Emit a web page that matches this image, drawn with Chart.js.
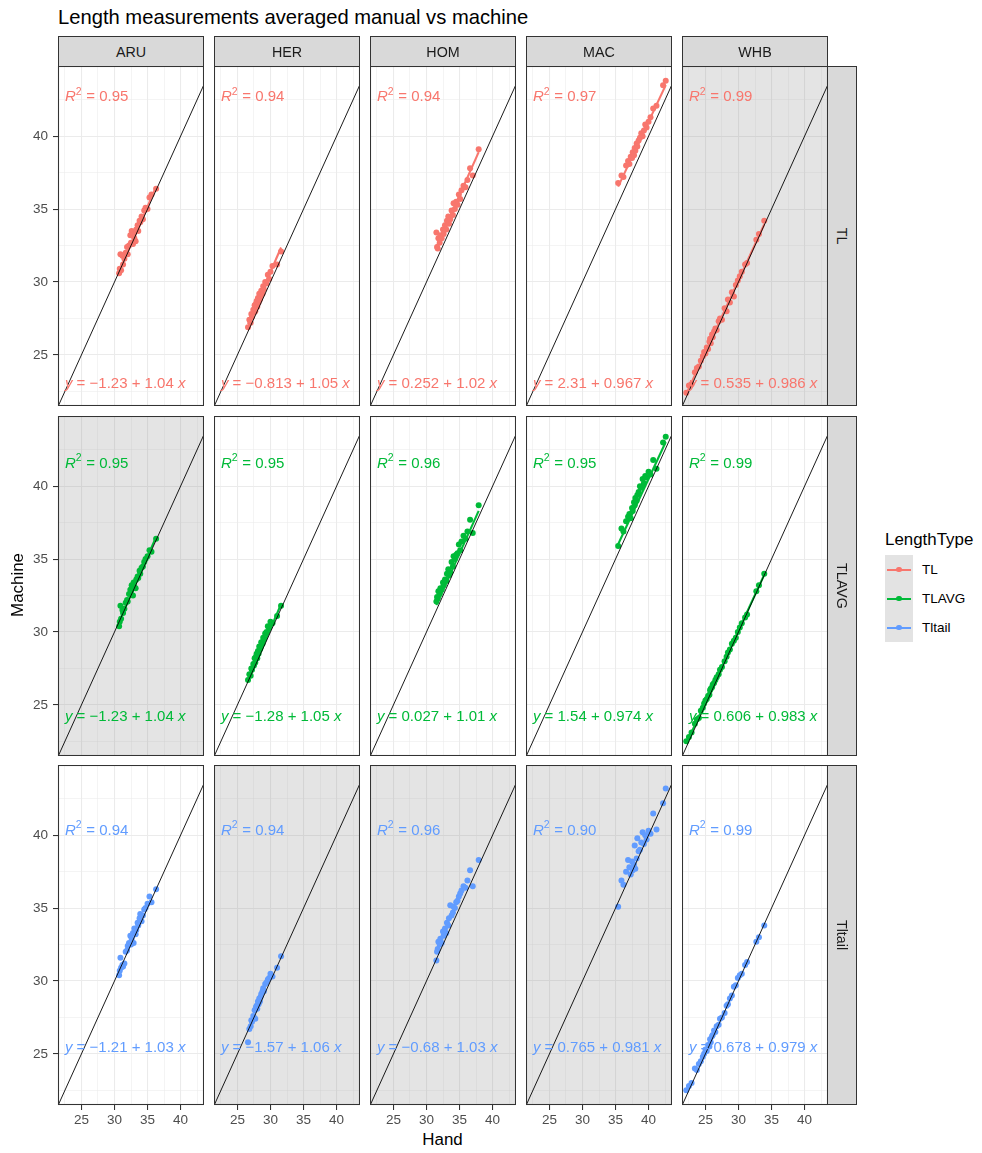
<!DOCTYPE html>
<html>
<head>
<meta charset="utf-8">
<script src="https://cdn.jsdelivr.net/npm/chart.js@4/dist/chart.umd.min.js"></script>
<style>
  body { margin: 0; background: #fff; font-family: "Liberation Sans", Arial, sans-serif; }
  #fig { position: relative; width: 982px; height: 1153px; overflow: hidden; background: #fff; }
  #fig canvas { position: absolute; }
  .txt { position: absolute; white-space: nowrap; }
  .strip { position: absolute; box-sizing: border-box; background: #D9D9D9; border: 1px solid #333333;
           color: #1A1A1A; font-size: 14.3px; display: flex; align-items: center; justify-content: center; }
</style>
</head>
<body>
<div id="fig"></div>
<script>
// ---- facets ----
const species = ['ARU', 'HER', 'HOM', 'MAC', 'WHB'];
const lengthTypes = ['TL', 'TLAVG', 'Tltail'];
const seriesColors = ['#F8766D', '#00BA38', '#619CFF'];
const shadedPanels = [['WHB'], ['ARU'], ['HER', 'HOM', 'MAC']];

// ---- manual (Hand) lengths per species ----
const handARU = [30.7,30.8,30.9,31.0,31.2,31.3,31.5,31.7,31.9,32.0,32.2,32.4,32.5,32.6,32.8,32.9,33.0,33.2,33.3,33.5,33.6,33.8,33.9,34.1,34.3,34.5,34.7,35.0,35.3,35.6,36.3];
const handHER = [26.6,26.8,27.0,27.1,27.2,27.4,27.5,27.6,27.7,27.8,27.9,28.0,28.1,28.2,28.3,28.4,28.5,28.6,28.8,28.9,29.0,29.2,29.4,29.6,29.8,30.0,30.3,31.0,31.6];
const handHOM = [31.5,31.6,31.7,31.8,32.0,32.1,32.3,32.5,32.6,32.8,33.0,33.1,33.3,33.4,33.6,33.8,34.0,34.1,34.3,34.5,34.7,34.9,35.1,35.3,35.6,35.9,36.2,36.6,37.0,37.9];
const handMAC = [35.4,35.9,36.2,36.6,36.9,37.1,37.3,37.5,37.6,37.8,37.9,38.0,38.2,38.3,38.5,38.7,38.9,39.1,39.3,39.5,39.7,40.0,40.3,40.7,41.2,42.2,42.6];
const handWHB = [22.1,22.5,22.9,23.4,23.7,24.0,24.3,24.6,24.8,25.0,25.2,25.4,25.6,25.7,25.8,26.0,26.1,26.3,26.5,26.7,27.0,27.2,27.5,27.9,28.2,28.4,28.7,29.0,29.3,29.6,29.9,30.2,30.5,31.0,31.3,32.7,33.1,33.9];

// ---- machine lengths: TL ----
const tlARU = [30.6,30.9,31.9,30.8,31.8,31.2,31.6,32.0,32.4,31.9,32.5,33.2,32.7,33.5,32.6,33.3,33.0,32.8,33.6,33.9,33.5,34.2,34.1,34.5,34.3,34.9,35.1,35.0,35.8,36.0,36.4];
const tlHER = [26.9,27.4,27.2,27.8,27.6,28.1,27.9,28.4,28.0,28.5,28.7,28.3,28.9,28.6,29.2,28.8,29.0,29.4,29.2,29.7,29.5,30.0,29.9,30.5,30.2,30.7,31.1,31.2,32.1];
const tlHOM = [33.4,32.4,32.3,33.0,32.7,33.2,33.0,33.6,33.3,33.9,33.6,34.2,34.5,34.0,34.3,34.9,34.6,35.4,35.0,35.5,35.3,36.0,35.7,36.3,36.6,36.5,37.0,37.8,37.3,39.1];
const tlMAC = [36.8,37.3,37.2,38.0,38.3,38.1,38.6,38.5,38.9,38.7,39.2,39.0,39.5,39.3,39.7,39.9,40.2,40.0,40.4,40.8,40.6,41.0,41.3,41.9,42.1,43.5,43.8];
const tlWHB = [22.4,22.9,23.0,23.8,24.1,24.2,24.6,24.9,25.2,25.1,25.5,25.4,25.9,26.1,25.8,26.4,26.2,26.6,26.8,26.7,27.3,27.5,27.4,28.2,28.0,28.8,28.6,29.3,29.0,29.8,30.1,30.4,30.7,31.2,31.3,32.9,33.3,34.2];

// ---- machine lengths: TLAVG ----
const tlavgARU = [30.4,30.7,31.8,30.9,31.5,31.3,31.6,32.0,32.2,32.1,32.6,32.9,32.8,33.2,32.5,33.4,33.1,33.0,33.6,33.8,33.7,34.2,34.0,34.4,34.5,34.8,35.0,35.2,35.6,35.5,36.4];
const tlavgHER = [26.7,27.1,27.0,27.5,27.4,27.8,27.7,28.2,27.9,28.3,28.5,28.2,28.7,28.5,29.0,28.8,28.9,29.3,29.2,29.6,29.5,29.9,30.0,30.4,30.3,30.7,30.6,31.1,31.8];
const tlavgHOM = [32.1,32.4,32.3,32.8,32.6,33.0,32.9,33.4,33.2,33.6,33.5,34.0,34.3,33.9,34.1,34.8,34.5,35.2,35.0,35.3,35.4,36.0,35.6,36.2,36.6,36.4,36.9,37.7,36.8,38.7];
const tlavgMAC = [35.9,37.1,36.9,37.6,37.9,38.1,37.8,38.5,38.3,38.9,38.7,39.2,39.0,39.4,39.6,40.0,39.9,40.5,40.2,40.7,40.6,41.0,40.8,41.8,41.2,43.0,43.4];
const tlavgWHB = [22.5,22.8,23.1,23.7,24.0,24.1,24.6,24.8,25.1,25.3,25.4,25.6,25.7,26.0,26.1,26.2,26.4,26.5,26.7,26.9,27.1,27.4,27.6,28.0,28.3,28.6,28.8,29.2,29.4,29.6,30.0,30.3,30.6,31.0,31.2,32.8,33.2,34.0];

// ---- machine lengths: Tltail ----
const tltailARU = [30.4,30.7,31.6,30.9,31.1,31.0,31.2,32.0,32.1,32.4,32.6,33.1,32.5,32.9,33.3,32.6,33.6,33.2,33.5,34.0,33.8,34.3,34.6,34.1,34.5,34.9,35.0,35.3,35.8,35.4,36.3];
const tltailHER = [25.8,26.7,26.9,27.3,27.2,27.6,27.5,28.0,27.4,28.2,28.3,28.1,28.6,28.4,28.8,28.6,28.9,29.1,29.3,29.5,29.3,29.8,29.9,30.1,30.2,30.5,30.3,30.9,31.7];
const tltailHOM = [31.4,32.0,32.2,32.7,32.5,32.9,32.6,33.4,33.1,33.6,33.3,34.0,33.8,34.3,35.2,34.5,34.7,35.1,35.0,35.4,35.5,35.8,36.0,36.2,36.5,36.4,36.9,37.6,36.5,38.3];
const tltailMAC = [35.1,36.9,36.6,37.5,38.3,37.8,37.3,38.2,37.6,38.0,39.3,37.7,38.4,39.8,38.9,39.0,39.5,40.2,39.4,40.0,39.7,40.3,40.1,41.5,40.4,42.2,43.2];
const tltailWHB = [22.5,22.8,23.0,24.0,23.9,24.3,24.5,24.8,25.0,25.3,25.2,25.6,25.5,26.0,25.8,26.2,26.3,26.6,26.5,26.9,27.0,27.4,27.5,27.8,28.3,28.4,28.8,29.0,29.6,29.7,30.2,30.4,30.5,31.1,31.3,32.7,33.0,33.8];

// ---- fitted regressions (intercept, slope) and R² per panel ----
const interceptTL = [-1.23, -0.813, 0.252, 2.31, 0.535];
const slopeTL = [1.04, 1.05, 1.02, 0.967, 0.986];
const r2TL = [0.95, 0.94, 0.94, 0.97, 0.99];
const interceptTLAVG = [-1.23, -1.28, 0.027, 1.54, 0.606];
const slopeTLAVG = [1.04, 1.05, 1.01, 0.974, 0.983];
const r2TLAVG = [0.95, 0.95, 0.96, 0.95, 0.99];
const interceptTltail = [-1.21, -1.57, -0.68, 0.765, 0.678];
const slopeTltail = [1.03, 1.06, 1.03, 0.981, 0.979];
const r2Tltail = [0.94, 0.94, 0.96, 0.90, 0.99];

// ---- axes ----
const axisTicks = [25, 30, 35, 40];
const minorTicks = [22.5, 27.5, 32.5, 37.5, 42.5];
const X_MIN = 21.45, X_MAX = 43.55, Y_MIN = 21.49, Y_MAX = 44.82;
const labelX = 22.5;
const r2LabelY = [42.76, 41.63, 40.42];
const eqLabelY = [23.09, 24.24, 25.5];

// ---- tables built from the arrays above ----
const handBySpecies = { ARU: handARU, HER: handHER, HOM: handHOM, MAC: handMAC, WHB: handWHB };
const machineTable = {
  TL:     { ARU: tlARU, HER: tlHER, HOM: tlHOM, MAC: tlMAC, WHB: tlWHB },
  TLAVG:  { ARU: tlavgARU, HER: tlavgHER, HOM: tlavgHOM, MAC: tlavgMAC, WHB: tlavgWHB },
  Tltail: { ARU: tltailARU, HER: tltailHER, HOM: tltailHOM, MAC: tltailMAC, WHB: tltailWHB }
};
const fitTable = {
  TL:     { a: interceptTL, b: slopeTL, r2: r2TL },
  TLAVG:  { a: interceptTLAVG, b: slopeTLAVG, r2: r2TLAVG },
  Tltail: { a: interceptTltail, b: slopeTltail, r2: r2Tltail }
};

// ---- layout ----
const FONT = '"Liberation Sans", Arial, sans-serif';
const PANEL_W = 146, PANEL_H = 340;
const colLeft = [58, 214, 370, 526, 682];
const rowTop = [66, 416, 765];
const Y_AXIS_W = 45, X_AXIS_H = 25;
const LABEL_SIZE = 15;

const fig = document.getElementById('fig');
function addText(text, css) {
  const d = document.createElement('div');
  d.className = 'txt';
  d.textContent = text;
  Object.assign(d.style, css);
  fig.appendChild(d);
  return d;
}

const gridTicks = [...axisTicks, ...minorTicks].sort((p, q) => p - q);
const isMajor = t => t && axisTicks.includes(t.value);

function fmtNum(v) {
  return v < 0 ? '\u2212' + String(Math.abs(v)) : String(v);
}

function drawSegments(ctx, x, yMid, segs) {
  let cx = x;
  const base = yMid + 0.36 * LABEL_SIZE;
  segs.forEach(s => {
    const size = s.sup ? LABEL_SIZE * 0.7 : LABEL_SIZE;
    ctx.font = (s.italic ? 'italic ' : '') + size + 'px ' + FONT;
    const yy = s.sup ? base - LABEL_SIZE * 0.45 : base;
    ctx.fillText(s.t, cx, yy);
    cx += ctx.measureText(s.t).width + (s.sup ? 0.5 : 0);
  });
}

// panel shading, labels and frame
const panelDeco = {
  id: 'panelDeco',
  beforeDatasetsDraw(chart, args, o) {
    if (!o.shaded) return;
    const a = chart.chartArea, ctx = chart.ctx;
    ctx.save();
    ctx.fillStyle = 'rgba(127,127,127,0.21)';
    ctx.fillRect(a.left, a.top, a.width, a.height);
    ctx.restore();
  },
  afterDraw(chart, args, o) {
    const a = chart.chartArea, ctx = chart.ctx;
    const xs = chart.scales.x, ys = chart.scales.y;
    ctx.save();
    ctx.beginPath();
    ctx.rect(a.left, a.top, a.width, a.height);
    ctx.clip();
    ctx.fillStyle = o.color;
    ctx.textAlign = 'left';
    ctx.textBaseline = 'alphabetic';
    const lx = xs.getPixelForValue(labelX);
    drawSegments(ctx, lx, ys.getPixelForValue(o.r2Y), [
      { t: 'R', italic: true }, { t: '2', sup: true }, { t: ' = ' + o.r2.toFixed(2) }
    ]);
    drawSegments(ctx, lx, ys.getPixelForValue(o.eqY), [
      { t: 'y', italic: true }, { t: ' = ' + fmtNum(o.a) + ' + ' + fmtNum(o.b) + ' ' },
      { t: 'x', italic: true }
    ]);
    ctx.restore();
    ctx.save();
    ctx.strokeStyle = '#333333';
    ctx.lineWidth = 1.07;
    ctx.strokeRect(a.left + 0.5, a.top + 0.5, a.width - 1, a.height - 1);
    ctx.restore();
  }
};

function scaleCfg(axis, showTicks, min, max) {
  return {
    type: 'linear', min, max,
    afterBuildTicks: s => { s.ticks = gridTicks.map(v => ({ value: v })); },
    afterFit: s => {
      if (axis === 'x') s.height = showTicks ? X_AXIS_H : 0;
      else s.width = showTicks ? Y_AXIS_W : 0;
      s.paddingTop = 0; s.paddingBottom = 0; s.paddingLeft = 0; s.paddingRight = 0;
    },
    grid: {
      color: '#EBEBEB',
      lineWidth: c => isMajor(c.tick) ? 1.07 : 0.55,
      drawTicks: showTicks,
      tickLength: 5,
      tickWidth: 1.07,
      tickColor: c => isMajor(c.tick) ? '#333333' : 'rgba(0,0,0,0)'
    },
    border: { display: false },
    ticks: {
      display: showTicks, autoSkip: false, maxRotation: 0, minRotation: 0,
      padding: axis === 'x' ? 2 : 5,
      color: '#4D4D4D',
      font: { family: FONT, size: 13.5 },
      callback: v => axisTicks.includes(v) ? String(v) : ''
    }
  };
}

lengthTypes.forEach((lt, r) => {
  const color = seriesColors[r];
  const fit = fitTable[lt];
  species.forEach((sp, c) => {
    const isLeft = c === 0, isBottom = r === lengthTypes.length - 1;
    const cw = PANEL_W + (isLeft ? Y_AXIS_W : 0);
    const ch = PANEL_H + (isBottom ? X_AXIS_H : 0);
    const cv = document.createElement('canvas');
    cv.width = cw; cv.height = ch;
    cv.style.width = cw + 'px'; cv.style.height = ch + 'px';
    cv.style.left = (colLeft[c] - (isLeft ? Y_AXIS_W : 0)) + 'px';
    cv.style.top = rowTop[r] + 'px';
    fig.appendChild(cv);

    const hand = handBySpecies[sp];
    const mach = machineTable[lt][sp];
    const pts = hand.map((h, i) => ({ x: h, y: mach[i] }));
    const a = fit.a[c], b = fit.b[c];
    const hMin = Math.min(...hand), hMax = Math.max(...hand);

    const datasets = [
      { type: 'line', data: [{ x: X_MIN, y: X_MIN }, { x: X_MAX, y: X_MAX }],
        borderColor: '#000000', borderWidth: 0.9, pointRadius: 0, order: 0 },
      { type: 'scatter', data: pts, backgroundColor: color, borderWidth: 0,
        pointRadius: 3, pointHoverRadius: 3, order: 2 }
    ];
    if (lt !== 'Tltail') {
      datasets.push({ type: 'line', data: [{ x: hMin, y: a + b * hMin }, { x: hMax, y: a + b * hMax }],
        borderColor: color, borderWidth: 2.1, pointRadius: 0, order: 1 });
    }

    new Chart(cv, {
      type: 'scatter',
      data: { datasets },
      options: {
        responsive: false, animation: false, devicePixelRatio: 1,
        layout: { padding: 0, autoPadding: false },
        events: [],
        plugins: {
          legend: { display: false }, tooltip: { enabled: false },
          panelDeco: {
            shaded: shadedPanels[r].includes(sp), color,
            r2: fit.r2[c], a, b, r2Y: r2LabelY[r], eqY: eqLabelY[r]
          }
        },
        scales: {
          x: scaleCfg('x', isBottom, X_MIN, X_MAX),
          y: scaleCfg('y', isLeft, Y_MIN, Y_MAX)
        }
      },
      plugins: [panelDeco]
    });
  });
});

// facet strips
species.forEach((sp, c) => {
  const s = document.createElement('div');
  s.className = 'strip';
  Object.assign(s.style, { left: colLeft[c] + 'px', top: '36px', width: PANEL_W + 'px', height: '31px' });
  s.textContent = sp;
  fig.appendChild(s);
});
lengthTypes.forEach((lt, r) => {
  const s = document.createElement('div');
  s.className = 'strip';
  Object.assign(s.style, { left: (colLeft[4] + PANEL_W - 1) + 'px', top: rowTop[r] + 'px', width: '30px', height: PANEL_H + 'px' });
  const t = document.createElement('span');
  t.textContent = lt;
  t.style.transform = 'rotate(90deg)';
  t.style.display = 'inline-block';
  t.style.whiteSpace = 'nowrap';
  s.appendChild(t);
  fig.appendChild(s);
});

// titles
addText('Length measurements averaged manual vs machine',
  { left: '58px', top: '7px', fontSize: '20.2px', lineHeight: '20.2px', color: '#000' });
addText('Hand', { left: '0px', width: '885px', textAlign: 'center', top: '1130px', fontSize: '16.9px', lineHeight: '20px', color: '#000' });
const yt = addText('Machine', { left: '-32px', width: '100px', textAlign: 'center', top: '575px', fontSize: '16.9px', lineHeight: '20px', color: '#000' });
yt.style.transform = 'rotate(-90deg)';

// legend
addText('LengthType', { left: '885px', top: '530px', fontSize: '16.9px', lineHeight: '20px', color: '#000' });
lengthTypes.forEach((lt, i) => {
  const top = 555 + 29 * i;
  const key = document.createElement('div');
  Object.assign(key.style, { position: 'absolute', left: '885px', top: top + 'px', width: '28px', height: '29px', background: '#E3E3E3' });
  const line = document.createElement('div');
  Object.assign(line.style, { position: 'absolute', left: '2px', top: '13.5px', width: '24px', height: '2px', background: seriesColors[i] });
  const dot = document.createElement('div');
  Object.assign(dot.style, { position: 'absolute', left: '11.3px', top: '11.8px', width: '5.4px', height: '5.4px', borderRadius: '50%', background: seriesColors[i] });
  key.appendChild(line); key.appendChild(dot);
  fig.appendChild(key);
  addText(lt, { left: '922px', top: (top + 4.5) + 'px', fontSize: '13.5px', lineHeight: '20px', color: '#000' });
});
</script>
</body>
</html>
